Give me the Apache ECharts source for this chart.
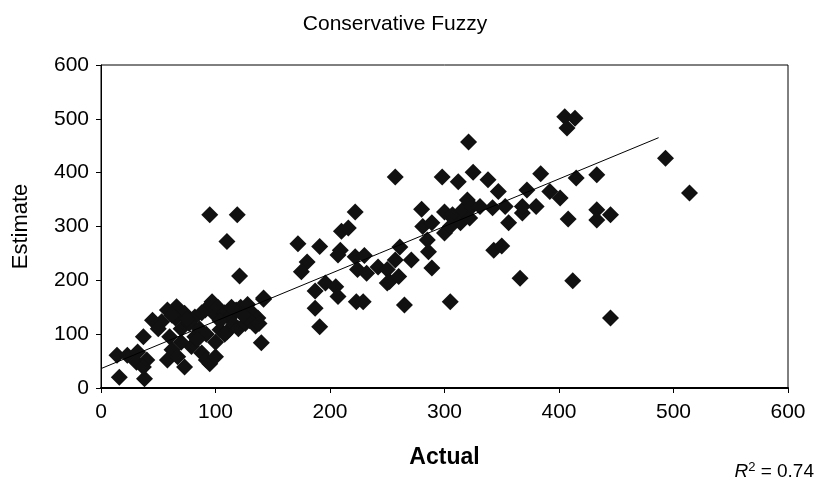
<!DOCTYPE html>
<html>
<head>
<meta charset="utf-8">
<script src="https://cdn.jsdelivr.net/npm/echarts@6/dist/echarts.min.js"></script>
<style>
  html, body { margin: 0; padding: 0; background: #fff; }
  #chart { width: 818px; height: 488px; }
</style>
</head>
<body>
<div id="chart"></div>
<script>
// actual vs estimate
const points = [
  [14,61],[23,61],[16,20],[38,17],[37,95],[32,67],[31,48],[40,52],[37,39],[45,126],
  [53,123],[58,145],[66,151],[73,139],[82,132],[91,145],[97,160],[60,95],[62,71],[58,52],
  [67,58],[73,39],[79,77],[88,65],[92,52],[82,95],[95,45],[100,58],[65,130],[70,110],
  [77,120],[86,110],[92,100],[98,140],[102,150],[108,140],[112,130],[118,145],[122,150],[128,155],
  [132,140],[137,130],[142,165],[140,84],[142,167],[104,108],[110,104],[116,118],[120,110],[126,120],
  [130,125],[135,115],[138,120],[95,322],[119,322],[110,272],[121,208],[100,85],[108,100],[84,90],
  [70,85],[62,135],[75,128],[88,140],[104,125],[114,150],[124,135],[50,110],
  [172,268],[191,263],[180,234],[175,216],[187,180],[187,148],[191,114],[196,195],[205,188],[207,170],
  [209,256],[207,247],[210,291],[216,297],[222,327],[222,244],[230,246],[224,220],[232,213],[242,225],
  [250,220],[250,195],[257,238],[261,262],[271,238],[252,198],[260,207],[223,160],[229,160],[257,392],
  [265,154],[280,332],[289,223],[281,300],[285,275],[286,253],[289,307],[298,392],[300,327],[306,318],
  [300,288],[305,160],[305,300],[307,322],[312,383],[314,307],[316,331],[320,349],[321,457],[322,316],
  [324,337],[325,401],[331,337],[338,387],[342,335],[343,256],[347,365],[350,264],[353,337],[356,307],
  [366,204],[368,325],[368,337],[372,368],[380,337],[384,398],[392,365],[401,353],[405,504],[414,501],
  [407,483],[408,314],[412,199],[415,390],[433,396],[433,331],[433,312],[445,322],[445,130],[493,427],
  [514,362]
];
// trend line ends
const trendX = [0, 487];
const trendY = [36, 465];
const xTicks = [0, 100, 200, 300, 400, 500, 600];
const yTicks = [0, 100, 200, 300, 400, 500, 600];

const font = '"Liberation Sans", Arial, sans-serif';
var myChart = echarts.init(document.getElementById('chart'));

var option = {
  animation: false,
  title: {
    text: 'Conservative Fuzzy',
    left: 390,
    textAlign: 'center',
    top: 9,
    textStyle: { fontFamily: font, fontSize: 21, fontWeight: 'normal', color: '#000' }
  },
  grid: { left: 101, right: 30, top: 65, bottom: 100, show: true, borderColor: '#000', borderWidth: 1 },
  xAxis: {
    type: 'value',
    min: xTicks[0], max: xTicks[xTicks.length - 1], interval: 100,
    name: 'Actual',
    nameLocation: 'middle',
    nameGap: 58,
    nameTextStyle: { fontFamily: font, fontSize: 23, fontWeight: 'bold', color: '#000' },
    axisLine: { lineStyle: { color: '#000', width: 2 } },
    axisTick: { show: true, length: 5, lineStyle: { color: '#000' } },
    axisLabel: { fontFamily: font, fontSize: 21, color: '#000', margin: 14 },
    splitLine: { show: false }
  },
  yAxis: {
    type: 'value',
    min: yTicks[0], max: yTicks[yTicks.length - 1], interval: 100,
    name: 'Estimate',
    nameLocation: 'middle',
    nameGap: 69,
    nameTextStyle: { fontFamily: font, fontSize: 22, color: '#000' },
    axisLine: { show: true, lineStyle: { color: '#000', width: 1 } },
    axisTick: { show: true, length: 5, lineStyle: { color: '#000' } },
    axisLabel: { fontFamily: font, fontSize: 21, color: '#000', margin: 12 },
    splitLine: { show: false }
  },
  series: [
    {
      type: 'scatter',
      symbol: 'diamond',
      symbolSize: 17,
      itemStyle: { color: '#111', opacity: 1 },
      data: points
    },
    {
      type: 'line',
      symbol: 'none',
      lineStyle: { color: '#000', width: 1 },
      data: trendX.map((x, i) => [x, trendY[i]]),
      z: 3
    }
  ],
  graphic: [
    {
      type: 'text',
      right: 4,
      top: 461,
      style: {
        text: '{r|R}{s|2}{n| = 0.74}',
        rich: {
          r: { fontFamily: font, fontSize: 19, fontStyle: 'italic', color: '#000' },
          s: { fontFamily: font, fontSize: 13, color: '#000', verticalAlign: 'top', padding: [0, 0, 9, 0] },
          n: { fontFamily: font, fontSize: 19, color: '#000' }
        }
      }
    }
  ]
};
myChart.setOption(option);
window.onresize = () => myChart.resize();
</script>
</body>
</html>
